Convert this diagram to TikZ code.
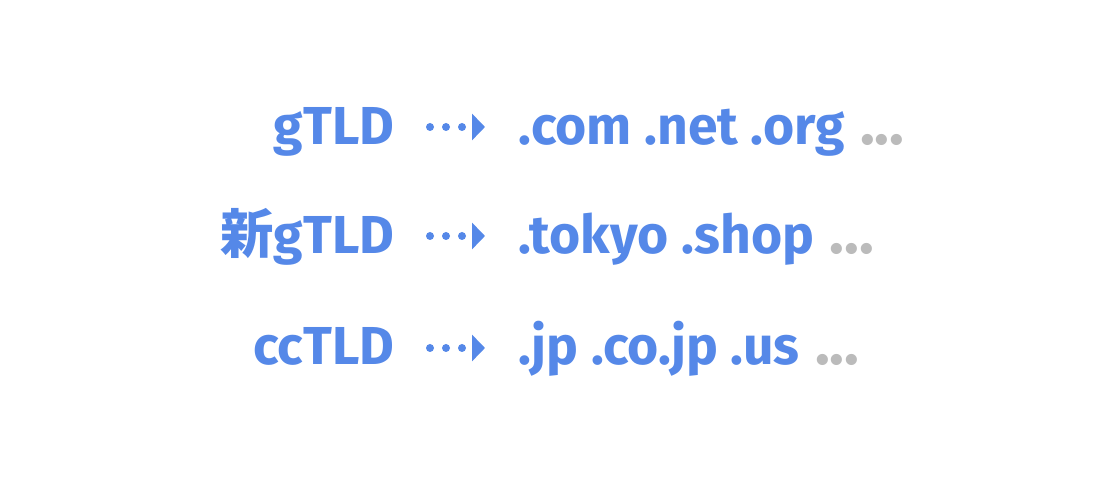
\documentclass[tikz,border=0pt]{standalone}
\usepackage{fontspec}
\setmainfont{Fira Sans}
\newfontfamily\cjk{Noto Sans CJK JP}
\usetikzlibrary{arrows.meta}
\definecolor{tldblue}{HTML}{5588E8}
\definecolor{moregray}{HTML}{BBBBBB}
\tikzset{
  tld/.style={font=\fontsize{15.2}{17}\selectfont\bfseries, text=tldblue, inner sep=0pt},
  more/.style={tld, font=\fontsize{17.5}{19}\selectfont\bfseries, text=moregray},
  dotarrow/.style={tldblue, line width=0.08cm, line cap=round, dash pattern=on 0pt off 0.16cm,
    -{Triangle[length=0.13cm,width=0.26cm]}, shorten <=0.35cm, shorten >=0.33cm}
}
\begin{document}
\begin{tikzpicture}
\useasboundingbox (0,0) rectangle (11.2,4.8);
% kinds of domains
\node[tld, anchor=base east] (g) at (3.95,3.35) {gTLD};
\node[tld, anchor=base east] (ng) at (3.95,2.26) {{\cjk 新}gTLD};
\node[tld, anchor=base east] (cc) at (3.95,1.15) {ccTLD};
% examples
\node[tld, anchor=base west] (gl) at (5.18,3.35) {.com .net .org};
\node[tld, anchor=base west] (ngl) at (5.18,2.26) {.tokyo .shop};
\node[tld, anchor=base west] (ccl) at (5.18,1.15) {.jp .co.jp .us};
\node[more, anchor=base west] (gm) at ([xshift=0.14cm]gl.base east) {...};
\node[more, anchor=base west] (ngm) at ([xshift=0.14cm]ngl.base east) {...};
\node[more, anchor=base west] (ccm) at ([xshift=0.14cm]ccl.base east) {...};
% arrows
\draw[dotarrow] ([yshift=0.18cm]g.base east) -- ([yshift=0.18cm]g.base east -| gl.west);
\draw[dotarrow] ([yshift=0.18cm]ng.base east) -- ([yshift=0.18cm]ng.base east -| ngl.west);
\draw[dotarrow] ([yshift=0.17cm]cc.base east) -- ([yshift=0.17cm]cc.base east -| ccl.west);
\end{tikzpicture}
\end{document}
